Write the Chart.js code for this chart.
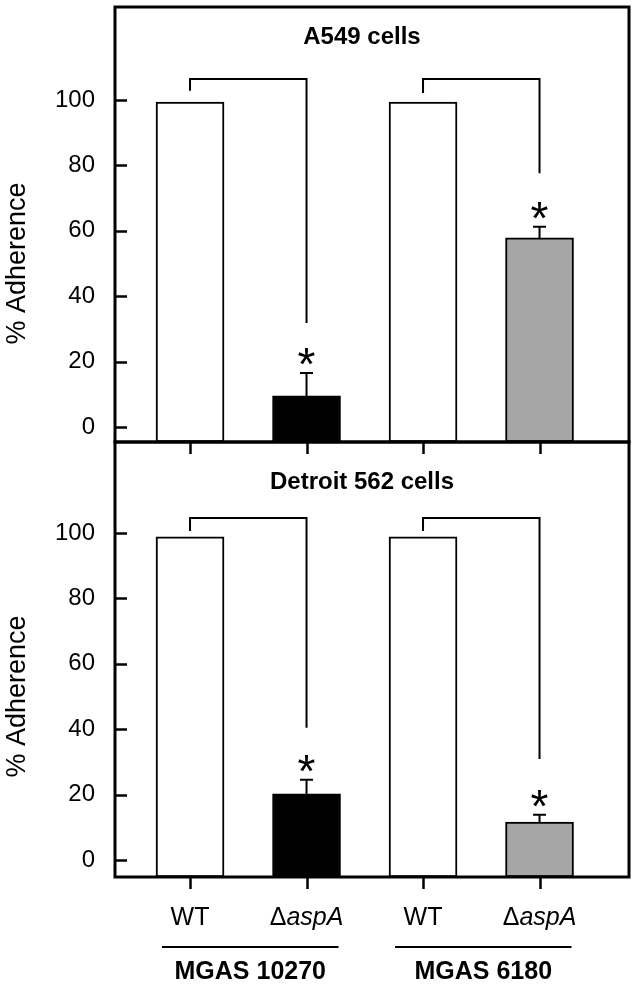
<!DOCTYPE html>
<html>
<head>
<meta charset="utf-8">
<script src="https://cdn.jsdelivr.net/npm/chart.js@4.4.1/dist/chart.umd.min.js"></script>
<style>
  html, body { margin: 0; padding: 0; background: #fff; }
  #wrap { position: relative; width: 638px; height: 986px; }
  canvas { position: absolute; left: 0; top: 0; }
</style>
</head>
<body>
<div id="wrap">
  <canvas id="a549Chart" width="638" height="986"></canvas>
  <canvas id="detroitChart" width="638" height="986"></canvas>
</div>
<script>
// Data
const strainLabels = ['WT', 'ΔaspA', 'WT', 'ΔaspA'];
const groupLabels = ['MGAS 10270', 'MGAS 6180'];
const barPositions = [1, 2, 3, 4];
const yTickValues = [0, 20, 40, 60, 80, 100];
const barColors = ['#ffffff', '#000000', '#ffffff', '#a6a6a6'];

// A549 cells (top panel)
const a549Values = [99.3, 9.5, 99.3, 57.8];
const a549Errors = [0, 7.0, 0, 3.4];
const a549Significant = [false, true, false, true];
const a549BracketTop = [106.4, 106.4];
const a549BracketLeft = [102.8, 102.1];
const a549BracketRight = [31.8, 77.6];

// Detroit 562 cells (bottom panel)
const detroitValues = [98.8, 20.2, 98.8, 11.6];
const detroitErrors = [0, 4.3, 0, 2.2];
const detroitSignificant = [false, true, false, true];
const detroitBracketTop = [104.6, 104.6];
const detroitBracketLeft = [100.6, 100.6];
const detroitBracketRight = [40.4, 30.9];

const fontFamily = "'Liberation Sans', Arial, sans-serif";

let a549Chart = null;
let detroitChart = null;

// Draws frame, ticks, error bars, brackets, asterisks and texts of one panel
function crearPluginPanel(panel) {
    return {
        id: 'panelExtras',
        afterDraw(chart) {
            const ctx = chart.ctx;
            const area = chart.chartArea;
            const xs = chart.scales.x;
            const ys = chart.scales.y;
            ctx.save();
            ctx.strokeStyle = '#000';
            ctx.fillStyle = '#000';
            ctx.lineCap = 'butt';

            // Frame
            ctx.lineWidth = 3;
            ctx.strokeRect(area.left, area.top, area.right - area.left, area.bottom - area.top);

            // Y ticks pointing inward
            ctx.lineWidth = 2.5;
            yTickValues.forEach(v => {
                const py = Math.round(ys.getPixelForValue(v)) + 0.5;
                ctx.beginPath();
                ctx.moveTo(area.left, py);
                ctx.lineTo(area.left + 12, py);
                ctx.stroke();
            });

            // X ticks pointing outward
            barPositions.forEach(p => {
                const px = Math.round(xs.getPixelForValue(p)) + 0.5;
                ctx.beginPath();
                ctx.moveTo(px, area.bottom);
                ctx.lineTo(px, area.bottom + 12);
                ctx.stroke();
            });

            // Error bars (upper only) and asterisks
            ctx.lineWidth = 2;
            barPositions.forEach((p, i) => {
                const px = xs.getPixelForValue(p);
                const top = ys.getPixelForValue(panel.values[i]);
                const cap = ys.getPixelForValue(panel.values[i] + panel.errors[i]);
                if (panel.errors[i] > 0) {
                    ctx.beginPath();
                    ctx.moveTo(px, top);
                    ctx.lineTo(px, cap);
                    ctx.moveTo(px - 6.5, cap);
                    ctx.lineTo(px + 6.5, cap);
                    ctx.stroke();
                }
                if (panel.significant[i]) {
                    ctx.font = '46px ' + fontFamily;
                    ctx.textAlign = 'center';
                    ctx.textBaseline = 'alphabetic';
                    ctx.fillText('*', px, cap - 19 + 26);
                }
            });

            // Comparison brackets
            ctx.lineWidth = 2;
            panel.bracketTop.forEach((t, k) => {
                const x1 = xs.getPixelForValue(barPositions[2 * k]);
                const x2 = xs.getPixelForValue(barPositions[2 * k + 1]);
                ctx.beginPath();
                ctx.moveTo(x1, ys.getPixelForValue(panel.bracketLeft[k]));
                ctx.lineTo(x1, ys.getPixelForValue(t));
                ctx.lineTo(x2, ys.getPixelForValue(t));
                ctx.lineTo(x2, ys.getPixelForValue(panel.bracketRight[k]));
                ctx.stroke();
            });

            // Panel title
            ctx.font = 'bold 24px ' + fontFamily;
            ctx.textAlign = 'center';
            ctx.textBaseline = 'middle';
            ctx.fillText(panel.title, area.left + 247, area.top + panel.titleOffset);

            // Y axis title, centred on the 0-100 range
            const yMid = (ys.getPixelForValue(0) + ys.getPixelForValue(100)) / 2;
            ctx.save();
            ctx.translate(18, yMid);
            ctx.rotate(-Math.PI / 2);
            ctx.font = '27px ' + fontFamily;
            ctx.textBaseline = 'middle';
            ctx.fillText('% Adherence', 0, 0);
            ctx.restore();

            // Strain and group labels under the bottom panel
            if (panel.conEtiquetas) {
                const labelY = area.bottom + 48;
                strainLabels.forEach((lab, i) => {
                    const px = xs.getPixelForValue(barPositions[i]);
                    ctx.textBaseline = 'alphabetic';
                    ctx.textAlign = 'left';
                    if (lab.startsWith('Δ')) {
                        const rest = lab.slice(1);
                        ctx.font = '25px ' + fontFamily;
                        const w1 = ctx.measureText('Δ').width;
                        ctx.font = 'italic 25px ' + fontFamily;
                        const w2 = ctx.measureText(rest).width;
                        const x0 = px - (w1 + w2) / 2;
                        ctx.font = '25px ' + fontFamily;
                        ctx.fillText('Δ', x0, labelY);
                        ctx.font = 'italic 25px ' + fontFamily;
                        ctx.fillText(rest, x0 + w1, labelY);
                    } else {
                        ctx.font = '25px ' + fontFamily;
                        ctx.textAlign = 'center';
                        ctx.fillText(lab, px, labelY);
                    }
                });

                ctx.lineWidth = 2;
                groupLabels.forEach((g, k) => {
                    const x1 = xs.getPixelForValue(barPositions[2 * k]);
                    const x2 = xs.getPixelForValue(barPositions[2 * k + 1]);
                    const lineY = area.bottom + 70;
                    ctx.beginPath();
                    ctx.moveTo(x1 - 28, lineY);
                    ctx.lineTo(x2 + 32, lineY);
                    ctx.stroke();
                    ctx.font = 'bold 25px ' + fontFamily;
                    ctx.textAlign = 'center';
                    ctx.textBaseline = 'middle';
                    ctx.fillText(g, (x1 + x2) / 2 + 2, area.bottom + 95);
                });
            }
            ctx.restore();
        }
    };
}

// Creates one panel chart
function crearPanel(canvasId, panel) {
    const ctx = document.getElementById(canvasId);
    return new Chart(ctx, {
        type: 'bar',
        data: {
            datasets: [{
                data: barPositions.map((p, i) => ({ x: p, y: panel.values[i] })),
                backgroundColor: barColors,
                borderColor: '#000',
                borderWidth: 2,
                borderSkipped: false,
                barThickness: 68,
                base: panel.yMin
            }]
        },
        options: {
            responsive: false,
            animation: false,
            devicePixelRatio: 1,
            layout: { padding: panel.padding },
            scales: {
                x: {
                    type: 'linear',
                    display: false,
                    offset: false,
                    min: 0.356,
                    max: 4.768
                },
                y: {
                    min: panel.yMin,
                    max: panel.yMax,
                    grid: { display: false, drawTicks: false },
                    border: { display: false },
                    ticks: {
                        color: '#000',
                        padding: 20,
                        font: { family: fontFamily, size: 24 }
                    },
                    afterBuildTicks: scale => {
                        scale.ticks = yTickValues.map(v => ({ value: v }));
                    },
                    afterFit: scale => {
                        scale.width = 115;
                        scale.paddingTop = 0;
                        scale.paddingBottom = 0;
                    }
                }
            },
            plugins: {
                legend: { display: false },
                tooltip: { enabled: false }
            }
        },
        plugins: [crearPluginPanel(panel)]
    });
}

a549Chart = crearPanel('a549Chart', {
    title: 'A549 cells',
    titleOffset: 30,
    values: a549Values,
    errors: a549Errors,
    significant: a549Significant,
    bracketTop: a549BracketTop,
    bracketLeft: a549BracketLeft,
    bracketRight: a549BracketRight,
    yMin: -4.6,
    yMax: 128.4,
    padding: { top: 7, bottom: 544, left: 0, right: 9 },
    conEtiquetas: false
});

detroitChart = crearPanel('detroitChart', {
    title: 'Detroit 562 cells',
    titleOffset: 40,
    values: detroitValues,
    errors: detroitErrors,
    significant: detroitSignificant,
    bracketTop: detroitBracketTop,
    bracketLeft: detroitBracketLeft,
    bracketRight: detroitBracketRight,
    yMin: -5.2,
    yMax: 127.8,
    padding: { top: 442, bottom: 109, left: 0, right: 9 },
    conEtiquetas: true
});
</script>
</body>
</html>
